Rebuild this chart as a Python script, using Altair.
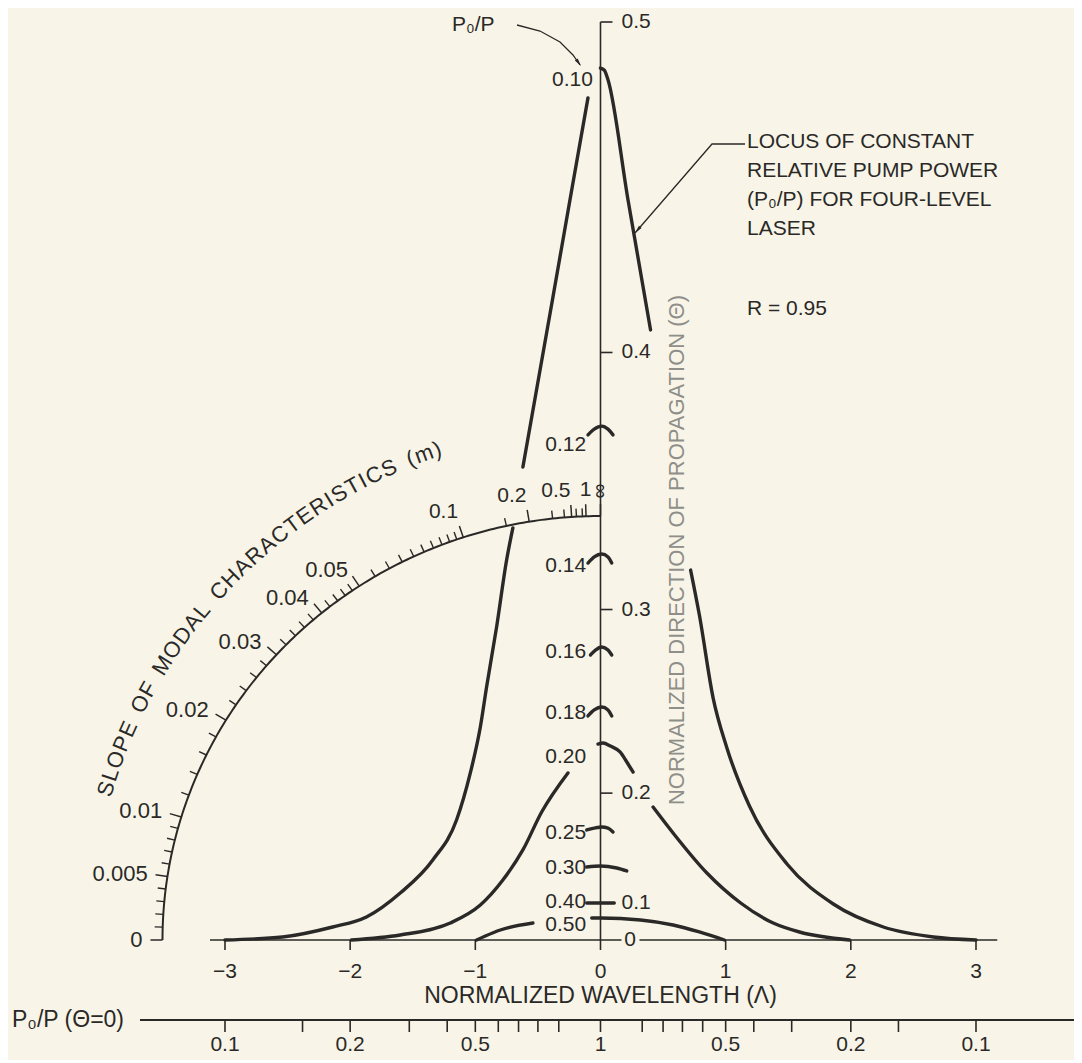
import math
import altair as alt
import pandas as pd

# ================= values =================
# Locus P0/P = 0.10 (drawn in four pieces, interrupted where labels sit)
l010_a_lam = [-3.00, -2.54, -2.14, -1.87, -1.60, -1.34, -1.15, -1.04, -0.96, -0.91, -0.83, -0.75, -0.70]
l010_a_th = [0.0, 0.0286, 0.0595, 0.0791, 0.1131, 0.1476, 0.1808, 0.2133, 0.2408, 0.2625, 0.2920, 0.3217, 0.3350]
l010_b_lam = [-0.62, -0.384, -0.244, -0.10]
l010_b_th = [0.3589, 0.4175, 0.4489, 0.4789]
l010_c_lam = [0.0, 0.03, 0.06, 0.22, 0.40]
l010_c_th = [0.4873, 0.4867, 0.4840, 0.4489, 0.4076]
l010_d_lam = [0.72, 0.79, 0.90, 1.01, 1.19, 1.49, 1.86, 2.26, 2.66, 3.00]
l010_d_th = [0.3174, 0.2975, 0.2567, 0.2287, 0.1910, 0.1439, 0.0990, 0.0595, 0.0286, 0.0]
# Locus P0/P = 0.20
l020_a_lam = [-1.99, -1.60, -1.20, -0.96, -0.78, -0.62, -0.47, -0.26]
l020_a_th = [0.0, 0.0369, 0.0680, 0.0976, 0.1278, 0.1566, 0.1867, 0.2133]
l020_b_lam = [-0.02, 0.02, 0.08, 0.156, 0.21, 0.26]
l020_b_th = [0.2310, 0.2316, 0.2298, 0.2263, 0.2202, 0.2139]
l020_c_lam = [0.42, 0.58, 0.85, 1.12, 1.38, 1.59, 1.99]
l020_c_th = [0.1903, 0.1707, 0.1351, 0.1004, 0.0680, 0.0467, 0.0]
# Locus P0/P = 0.50
l050_a_lam = [-0.99, -0.92, -0.80, -0.54]
l050_a_th = [0.0, 0.0330, 0.0522, 0.0680]
l050_b_lam = [-0.07, 0.0, 0.32, 0.58, 0.79, 0.99]
l050_b_th = [0.0774, 0.0774, 0.0738, 0.0639, 0.0467, 0.0]
# short tops of the other loci, drawn at the Θ axis
cap012_lam = [-0.10, -0.05, 0.01, 0.06, 0.10]
cap012_th = [0.3709, 0.3730, 0.3741, 0.3730, 0.3709]
cap014_lam = [-0.10, -0.05, 0.01, 0.06, 0.09]
cap014_th = [0.3204, 0.3230, 0.3242, 0.3230, 0.3204]
cap016_lam = [-0.08, -0.04, 0.01, 0.06, 0.09]
cap016_th = [0.2786, 0.2810, 0.2825, 0.2810, 0.2786]
cap018_lam = [-0.10, -0.05, 0.01, 0.06, 0.09]
cap018_th = [0.2470, 0.2503, 0.2519, 0.2503, 0.2470]
cap025_lam = [-0.11, -0.04, 0.01, 0.06, 0.10]
cap025_th = [0.1731, 0.1748, 0.1754, 0.1745, 0.1715]
cap030_lam = [-0.11, 0.0, 0.13, 0.21]
cap030_th = [0.1410, 0.1420, 0.1400, 0.1371]
cap040_lam = [-0.11, 0.11]
cap040_th = [0.1004, 0.1004]

# P0/P labels of the loci (value of Θ where each label sits)
locus_labels = ["0.10", "0.12", "0.14", "0.16", "0.18", "0.20", "0.25", "0.30", "0.40", "0.50"]
locus_label_th = [0.4840, 0.3672, 0.3192, 0.2801, 0.2486, 0.2232, 0.1707, 0.1400, 0.1017, 0.0639]

# axes
theta_ticks = [0.1, 0.2, 0.3, 0.4, 0.5]
theta_tick_labels = ["0.1", "0.2", "0.3", "0.4", "0.5"]
lam_ticks = [-3, -2, -1, 0, 1, 2, 3]
lam_tick_labels = ["\u22123", "\u22122", "\u22121", "0", "1", "2", "3"]
p0_major = [0.1, 0.2, 0.5, 1.0]
p0_major_labels = ["0.1", "0.2", "0.5", "1"]
p0_minor = [0.15, 0.3, 0.4, 0.6, 0.7, 0.8, 0.9]
m_major = [0, 0.005, 0.01, 0.02, 0.03, 0.04, 0.05, 0.1, 0.2, 0.5, 1, math.inf]
m_major_labels = ["0", "0.005", "0.01", "0.02", "0.03", "0.04", "0.05", "0.1", "0.2", "0.5", "1", "\u221e"]
m_minor = [0.001, 0.002, 0.003, 0.004, 0.006, 0.007, 0.008, 0.009,
           0.012, 0.014, 0.016, 0.018, 0.022, 0.024, 0.026, 0.028,
           0.032, 0.034, 0.036, 0.038, 0.042, 0.044, 0.046, 0.048,
           0.055, 0.06, 0.065, 0.07, 0.075, 0.08, 0.085, 0.09, 0.095,
           0.15, 0.3, 0.4, 0.6, 0.8]

# ================= layout =================
W, H = 1066, 918
LAM_DOMAIN = [-4.7336, 3.783]
TH_MAX = 0.5
PX_PER_LAM = W / (LAM_DOMAIN[1] - LAM_DOMAIN[0])
PX_PER_T2 = H / TH_MAX ** 2
K_SLOPE = PX_PER_T2 / PX_PER_LAM
INK = "#2a2927"
GREY = "#8f8e89"
BG = "#f8f5e8"
FONT = "Liberation Sans"
ARC_A, ARC_B = 438.0, 424.0


def lam_at(px):
    return px / PX_PER_LAM


def th_at(px):
    v = math.sqrt(abs(px) / PX_PER_T2)
    return v if px >= 0 else -v


def arc_r(phi):
    return ARC_A * ARC_B / math.hypot(ARC_B * math.cos(phi), ARC_A * math.sin(phi))


def polar(phi, r):
    return lam_at(-r * math.cos(phi)), th_at(r * math.sin(phi))


xs = alt.Scale(domain=LAM_DOMAIN, nice=False, zero=False)
ys = alt.Scale(type="pow", exponent=2, domain=[0, TH_MAX], nice=False, zero=False)
X = alt.X("lam:Q", scale=xs, axis=None)
Y = alt.Y("th:Q", scale=ys, axis=None)

# ---------- curves ----------
segments = [
    ("a010", l010_a_lam, l010_a_th), ("b010", l010_b_lam, l010_b_th),
    ("c010", l010_c_lam, l010_c_th), ("d010", l010_d_lam, l010_d_th),
    ("a020", l020_a_lam, l020_a_th), ("b020", l020_b_lam, l020_b_th),
    ("c020", l020_c_lam, l020_c_th),
    ("a050", l050_a_lam, l050_a_th), ("b050", l050_b_lam, l050_b_th),
    ("k012", cap012_lam, cap012_th), ("k014", cap014_lam, cap014_th),
    ("k016", cap016_lam, cap016_th), ("k018", cap018_lam, cap018_th),
    ("k025", cap025_lam, cap025_th), ("k030", cap030_lam, cap030_th),
    ("k040", cap040_lam, cap040_th),
]
crow = []
for name, ls, ts in segments:
    for i, (l, t) in enumerate(zip(ls, ts)):
        crow.append(dict(seg=name, i=i, lam=l, th=t))
curves = alt.Chart(pd.DataFrame(crow)).mark_line(
    color=INK, strokeWidth=3.4, interpolate="monotone", strokeCap="round"
).encode(X, Y, detail="seg:N", order="i:Q")

# ---------- rules and texts ----------
rules = []
texts = {}


def rule(l1, t1, l2, t2, w=1.6):
    rules.append(dict(lam=l1, th=t1, lam2=l2, th2=t2, w=w))


def text(l, t, s, align="center", baseline="middle", fs=21, ang=0, col=INK):
    texts.setdefault((align, baseline), []).append(
        dict(lam=l, th=t, txt=s, fs=fs, ang=ang, col=col))


# Θ axis
rule(0, 0, 0, TH_MAX)
for v, s in zip(theta_ticks, theta_tick_labels):
    rule(0, v, lam_at(12), v)
    text(lam_at(21), v, s, align="left")
text(lam_at(29.5), 0, "0")

# Λ axis
rule(-3.12, 0, lam_at(21), 0)
rule(lam_at(39), 0, 3.17, 0)
for v, s in zip(lam_ticks, lam_tick_labels):
    rule(v, 0, v, th_at(-10))
    text(v, th_at(-32), s)
text(0, th_at(-56), "NORMALIZED WAVELENGTH (\u039b)", fs=23)

# P0/P(Θ=0) scale: P0/P = 1/(1+Λ²)
py = th_at(-80)
rule(lam_at(140 - 600.5), py, LAM_DOMAIN[1], py, 2.0)
for p in p0_major + p0_minor:
    lv = math.sqrt(1 / p - 1)
    for sgn in ([1] if lv == 0 else [-1, 1]):
        rule(sgn * lv, py, sgn * lv, th_at(-92))
for p, s in zip(p0_major, p0_major_labels):
    lv = math.sqrt(1 / p - 1)
    for sgn in ([1] if lv == 0 else [-1, 1]):
        text(sgn * lv, th_at(-105), s)
text(lam_at(12 - 600.5), py, "P\u2080/P (\u0398=0)", align="left", fs=23)

# slope scale (quarter arc): direction angle = atan(K m)
arc_rows = []
for i in range(181):
    phi = math.radians(i * 0.5)
    l, t = polar(phi, arc_r(phi))
    arc_rows.append(dict(seg="arc", i=i, lam=l, th=t))
arc = alt.Chart(pd.DataFrame(arc_rows)).mark_line(color=INK, strokeWidth=2.0).encode(
    X, Y, detail="seg:N", order="i:Q")

for m in m_minor:
    phi = math.atan(K_SLOPE * m)
    r = arc_r(phi)
    l1, t1 = polar(phi, r)
    l2, t2 = polar(phi, r + 8)
    rule(l1, t1, l2, t2, 1.4)
for m, s in zip(m_major, m_major_labels):
    phi = math.atan(K_SLOPE * m) if m != math.inf else math.pi / 2
    r = arc_r(phi)
    l1, t1 = polar(phi, r)
    l2, t2 = polar(phi, r + 12)
    rule(l1, t1, l2, t2, 1.5)
    deg = math.degrees(phi)
    if m == math.inf:
        lt, tt = polar(phi, r + 25)
        text(lt, tt, s, ang=90)
    elif deg < 60:
        lt, tt = polar(phi, r + 20)
        text(lt, tt, s, align="right", fs=22)
    elif m >= 1:
        lt, tt = polar(phi, r + 16)
        text(lt, tt, s, baseline="bottom")
    else:
        lt, tt = polar(phi, r + 16)
        text(lt, tt, s, align="right", baseline="bottom")

# curved scale title
title_chars = "SLOPE OF MODAL CHARACTERISTICS (m)"
em = {"S": .667, "L": .556, "O": .778, "P": .667, "E": .667, " ": .42, "F": .611,
      "M": .833, "D": .722, "A": .667, "C": .722, "H": .722, "R": .722, "T": .611,
      "I": .278, "(": .333, "m": .833, ")": .333}
adv = [em.get(c, .667) + 0.12 for c in title_chars]
cent, acc = [], 0.0
for a in adv:
    cent.append(acc + a / 2)
    acc += a
PHI0, PHI1, R_T = 17.0, 71.6, 517.0
for c, cc in zip(title_chars, cent):
    if c == " ":
        continue
    d = PHI0 + (cc - cent[0]) / (cent[-1] - cent[0]) * (PHI1 - PHI0)
    lt, tt = polar(math.radians(d), R_T)
    text(lt, tt, c, ang=(d + 270) % 360, fs=22)

# labels of the loci
for s, t in zip(locus_labels, locus_label_th):
    text(-0.06 if s == "0.10" else -0.115, t, s, align="right")

# annotations
text(lam_at(452 - 600.5), th_at(915), "P\u2080/P", align="left")
text(lam_at(747 - 600.5), th_at(940 - 315), "R = 0.95", align="left", baseline="alphabetic")
text(lam_at(677 - 600.5), th_at(390), "NORMALIZED DIRECTION OF PROPAGATION (\u0398)",
     fs=22, ang=270, col=GREY)

rule_layer = alt.Chart(pd.DataFrame(rules)).mark_rule(color=INK).encode(
    X, Y, x2=alt.X2("lam2:Q"), y2=alt.Y2("th2:Q"),
    strokeWidth=alt.StrokeWidth("w:Q", scale=None))

text_layers = []
for (align, baseline), rows in texts.items():
    text_layers.append(
        alt.Chart(pd.DataFrame(rows)).mark_text(align=align, baseline=baseline, font=FONT).encode(
            X, Y, text="txt:N",
            size=alt.Size("fs:Q", scale=None),
            angle=alt.Angle("ang:Q", scale=None),
            color=alt.Color("col:N", scale=None)))

note = alt.Chart(pd.DataFrame([dict(lam=lam_at(747 - 600.5), th=th_at(940 - 148))])).mark_text(
    align="left", baseline="alphabetic", font=FONT, fontSize=21, lineHeight=29, color=INK
).encode(X, Y, text=alt.value(["LOCUS OF CONSTANT", "RELATIVE PUMP POWER",
                               "(P\u2080/P) FOR FOUR-LEVEL", "LASER"]))

# leader lines with arrowheads
leaders = [
    ("locus", [(635 - 600.5, 707), (712 - 600.5, 796), (745 - 600.5, 796)]),
    ("p0", [(517 - 600.5, 915), (540 - 600.5, 909), (560 - 600.5, 898), (573 - 600.5, 885), (580 - 600.5, 875)]),
]
lead_rows = []
for name, pts in leaders:
    for i, (px, pu) in enumerate(pts):
        lead_rows.append(dict(seg=name, i=i, lam=lam_at(px), th=th_at(pu)))
lead = alt.Chart(pd.DataFrame(lead_rows)).mark_line(color=INK, strokeWidth=1.3).encode(
    X, Y, detail="seg:N", order="i:Q")

heads = pd.DataFrame([
    dict(lam=lam_at(635 - 600.5), th=th_at(707), ang=221),
    dict(lam=lam_at(581 - 600.5), th=th_at(874), ang=144),
])
head = alt.Chart(heads).mark_point(
    shape="M0,0L0.38,1.7L-0.38,1.7Z", filled=True, color=INK, size=90, opacity=1, strokeWidth=0
).encode(X, Y, angle=alt.Angle("ang:Q", scale=None))

chart = alt.layer(arc, rule_layer, curves, lead, head, note, *text_layers).properties(
    width=W, height=H,
    padding={"left": 0, "top": 14, "right": 0, "bottom": 120},
    autosize=alt.AutoSizeParams(type="none"),
).configure(background=BG).configure_view(stroke=None)

chart.save("out.html", embed_options={"renderer": "svg", "actions": False})
